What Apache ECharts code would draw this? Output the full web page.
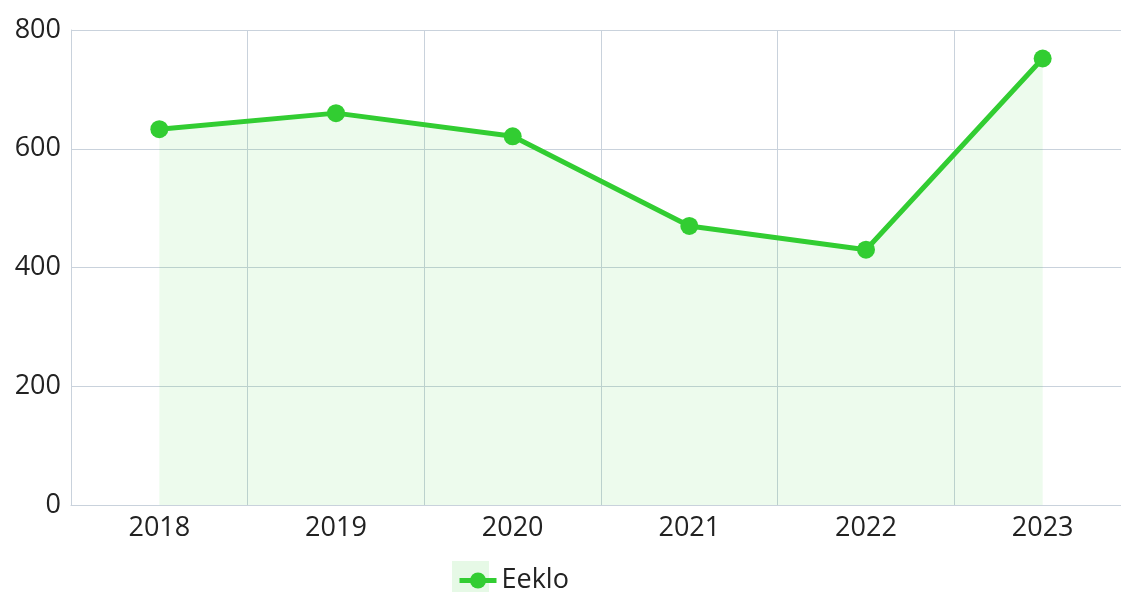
<!DOCTYPE html>
<html>
<head>
<meta charset="utf-8">
<script src="https://cdn.jsdelivr.net/npm/echarts@6/dist/echarts.min.js"></script>
<style>
  html, body { margin: 0; padding: 0; background: #fff; overflow: hidden; }
  /* plot runs a little past the right edge of the window, as in the original */
  #chart { width: 1131px; height: 592px; }
</style>
</head>
<body>
<div id="chart"></div>
<script>
// data
var years = ['2018', '2019', '2020', '2021', '2022', '2023'];
var eeklo = [633, 660, 621, 470, 430, 752];
var yTicks = [0, 200, 400, 600, 800];

var green = '#32cd32';
var gridColor = '#c9d2dc';
var font = '"Open Sans", "Noto Sans", sans-serif';

var myChart = echarts.init(document.getElementById('chart'));
myChart.setOption({
  animation: false,
  textStyle: { fontFamily: font },
  grid: { left: 71, top: 30, right: 0, height: 475, containLabel: false },
  legend: {
    top: 562,
    left: 452,
    itemWidth: 37,
    itemHeight: 20,
    itemGap: 9,
    lineStyle: { width: 5 },
    textStyle: { fontSize: 27, color: '#222', fontFamily: font },
    data: ['Eeklo']
  },
  // pale box behind the legend icon
  graphic: [{
    type: 'rect',
    left: 452, top: 561, z: -1,
    shape: { width: 37, height: 31 },
    style: { fill: 'rgba(50,205,50,0.12)' }
  }],
  xAxis: {
    type: 'category',
    data: years,
    boundaryGap: true,
    axisLine: { lineStyle: { color: gridColor } },
    axisTick: { show: false },
    axisLabel: { fontSize: 27, color: '#222', margin: 10 },
    splitLine: { show: true, lineStyle: { color: gridColor } }
  },
  yAxis: {
    type: 'value',
    min: yTicks[0],
    max: yTicks[yTicks.length - 1],
    interval: 200,
    axisLine: { show: true, lineStyle: { color: gridColor } },
    axisTick: { show: false },
    axisLabel: { fontSize: 27, color: '#222', margin: 10 },
    splitLine: { lineStyle: { color: gridColor } }
  },
  series: [{
    name: 'Eeklo',
    type: 'line',
    data: eeklo,
    symbol: 'circle',
    symbolSize: 18,
    lineStyle: { color: green, width: 5 },
    itemStyle: { color: green },
    areaStyle: { color: 'rgba(50,205,50,0.12)' }
  }]
});
</script>
</body>
</html>
